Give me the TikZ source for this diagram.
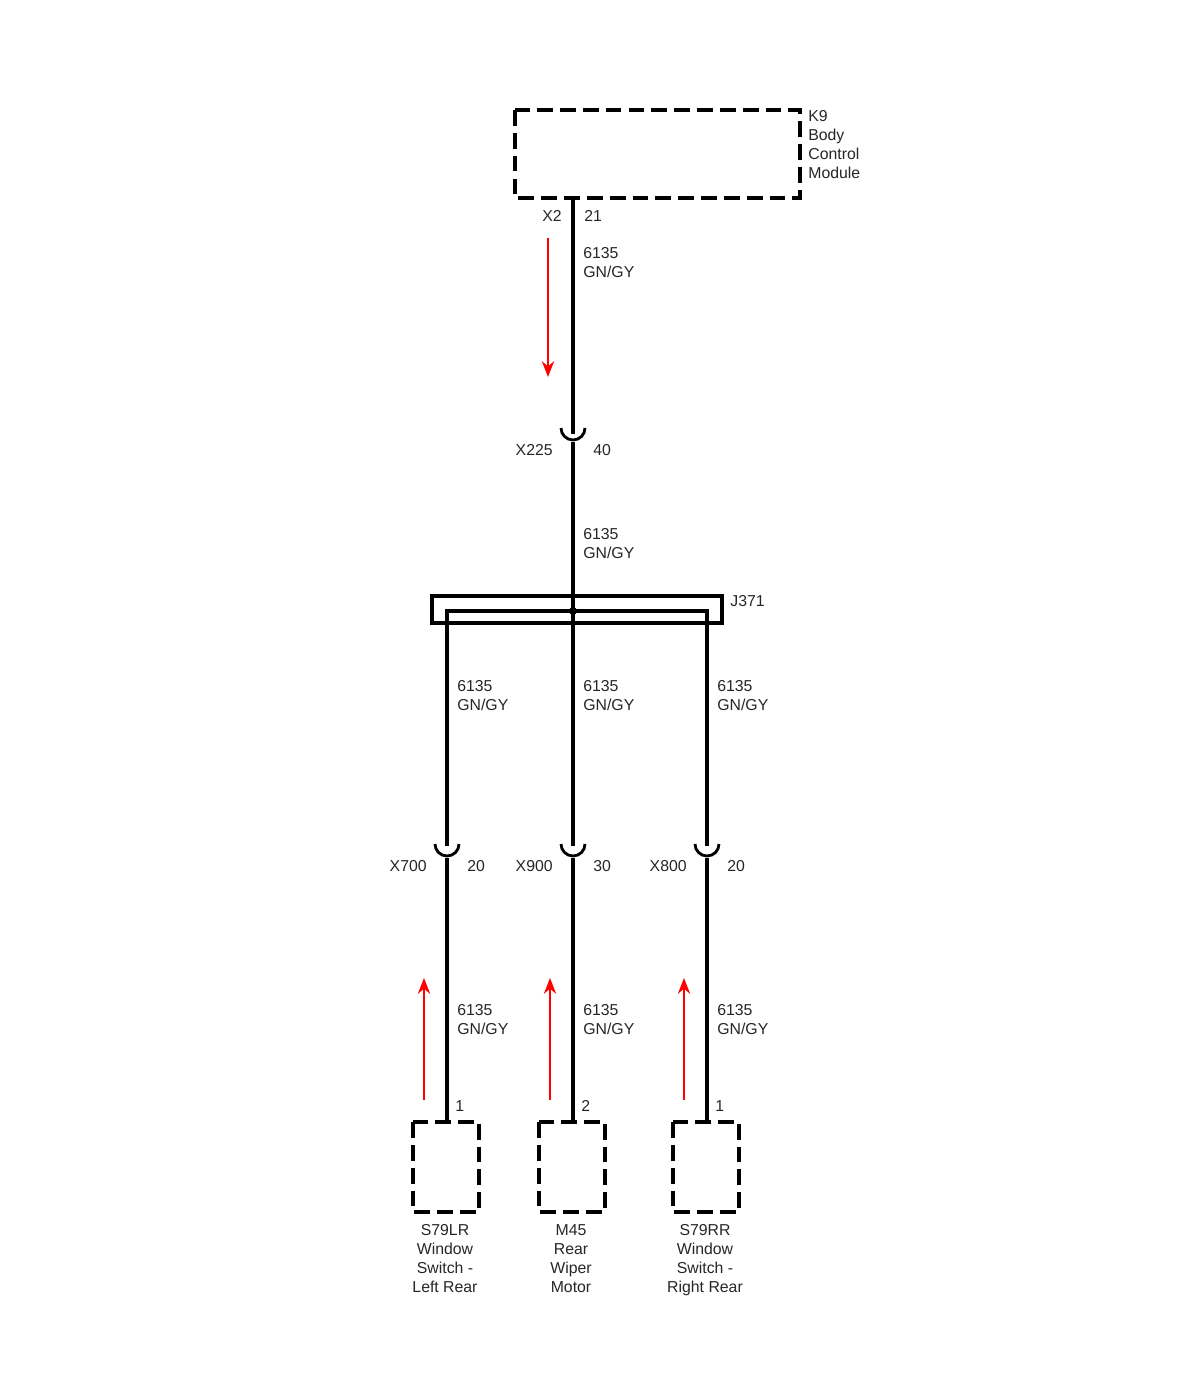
\documentclass[tikz,border=0pt]{standalone}
\usepackage{fontspec}
\setmainfont{Liberation Sans}
\usetikzlibrary{positioning, arrows.meta}
\tikzset{
wire/.style={line width=2.2pt}, % harness wire
module/.style={line width=2.2pt, dash pattern=on 9pt off 4pt}, % dashed component box
lbl/.style={font=\fontsize{9}{10.8}\selectfont, inner sep=0pt, align=left, text=black!85},
flow/.style={red, line width=1pt, -{Stealth[length=9pt,width=7pt]}},
}
% connector cup with pin labels (y = bottom of cup)
\newcommand{\inlinecup}[4]{% x, y, name, pin
  \draw[line width=1.6pt] (#1-12,#2-14) arc[start angle=180, end angle=0, radius=12];
  \node[lbl, anchor=east] at (#1-20,#2+8) {#3};
  \node[lbl, anchor=west] at (#1+20,#2+8) {#4};
}
\begin{document}
\begin{tikzpicture}[x=0.02cm, y=-0.02cm]
\useasboundingbox (0,0) rectangle (1200,1375);
% body control module
\draw[module] (515,110) rectangle (800,198);
\node[lbl, anchor=north west] (k9) at (808,110) {K9\\Body\\Control\\Module};
\coordinate (top) at (573,198);
\coordinate (c225) at (573,434);
\draw[wire] (top) -- (c225);
\node[lbl, anchor=east] at (562,216) {X2};
\node[lbl, anchor=west] at (584,216) {21};
\node[lbl, anchor=north west] at (583,247) {6135\\GN/GY};
\draw[flow] (548,238) -- (548,377);
\inlinecup{573}{442}{X225}{40}
% J371 splice
\coordinate (j) at (573,611);
\draw[wire] (573,442) -- (j);
\node[lbl, anchor=north west] at (583,528) {6135\\GN/GY};
\draw[line width=1.8pt] (432,596) rectangle (722,623);
\draw[line width=1.8pt] (447,623) -- (447,611) -- (707,611) -- (707,623);
\fill (j) circle (4);
\node[lbl, anchor=west] (j371) at (730,601) {J371};
% branches
\foreach \x/\c/\p/\pin/\lab in {447/X700/20/1/{S79LR\\Window\\Switch -\\Left Rear},
                               573/X900/30/2/{M45\\Rear\\Wiper\\Motor},
                               707/X800/20/1/{S79RR\\Window\\Switch -\\Right Rear}} {
  \draw[wire] (\x,611) -- (\x,846);
  \node[lbl, anchor=north west] at (\x+10,680) {6135\\GN/GY};
  \inlinecup{\x}{858}{\c}{\p}
  \draw[wire] (\x,858) -- (\x,1122);
  \node[lbl, anchor=north west] at (\x+10,1004) {6135\\GN/GY};
  \node[lbl, anchor=west] at (\x+8,1106) {\pin};
  \draw[flow] (\x-23,1100) -- (\x-23,978);
  \draw[module] (\x-34,1122) rectangle (\x+32,1212);
  \node[lbl, align=center, anchor=north] at (\x-2,1224) {\lab};
}
\end{tikzpicture}
\end{document}
